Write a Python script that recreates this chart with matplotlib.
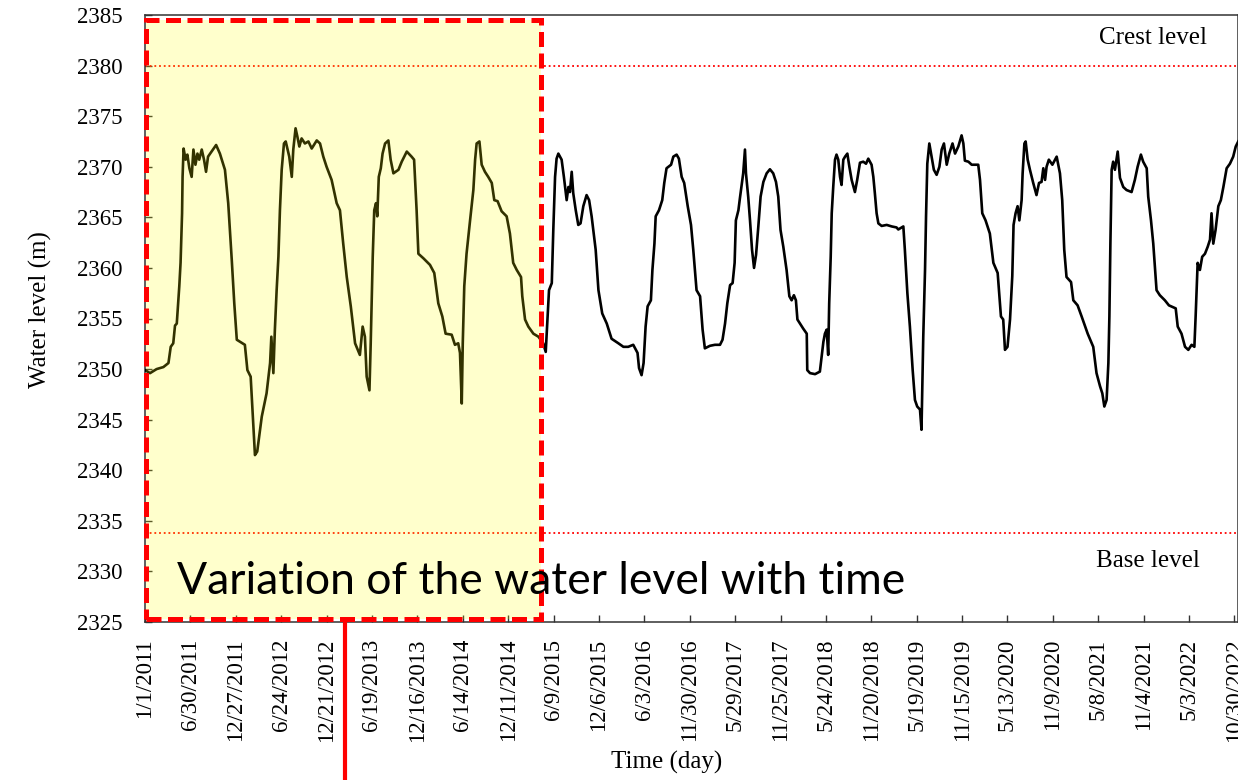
import numpy as np
import pandas as pd
import matplotlib
matplotlib.use("Agg")
import matplotlib.pyplot as plt
from matplotlib.patches import Rectangle
from matplotlib.lines import Line2D

plt.rcParams['font.family'] = ['Liberation Serif', 'DejaVu Serif']

START = "2011-01-01"

# ---- data: days since 1/1/2011 and water level (m) ----
days_a = [0, 20, 46, 73, 93, 102, 112, 119, 126, 136,
          141, 147, 149, 153, 161, 168, 176, 185, 192, 200,
          208, 215, 225, 234, 242, 250, 264, 282, 297, 317,
          330, 344, 354, 364, 377, 396, 406, 419, 430, 436,
          445, 463, 482, 496, 501, 509, 515, 522, 529, 535,
          542, 551, 558, 572, 582, 588, 597, 604, 612, 621,
          634, 648, 661, 681, 694, 707, 720, 740, 760, 773,
          786, 800, 816, 833, 852, 863, 872, 879, 890, 895,
          903, 909, 916, 921, 927, 935, 942, 952, 965, 974,
          985, 1005, 1018, 1038, 1057, 1067, 1077]
level_a = [2349.9, 2349.6, 2350.0, 2350.2, 2350.6, 2352.2, 2352.55, 2354.3, 2354.5, 2358.2,
           2360.5, 2365.4, 2369.0, 2371.8, 2370.7, 2371.2, 2369.85, 2369.0, 2371.7, 2370.2,
           2371.3, 2370.7, 2371.7, 2370.7, 2369.5, 2371.0, 2371.5, 2372.15, 2371.3, 2369.7,
           2366.4, 2360.8, 2356.5, 2352.9, 2352.7, 2352.4, 2349.9, 2349.25, 2344.3, 2341.5,
           2341.85, 2345.3, 2347.6, 2350.6, 2353.2, 2349.6, 2353.9, 2357.8, 2361.1, 2365.7,
           2369.7, 2372.3, 2372.5, 2371.0, 2369.0, 2371.7, 2373.8, 2373.0, 2372.0, 2372.8,
           2372.3, 2372.5, 2371.8, 2372.6, 2372.3, 2371.0, 2370.0, 2368.7, 2366.4, 2365.7,
           2362.4, 2359.1, 2356.2, 2352.55, 2351.4, 2354.2, 2353.2, 2349.25, 2347.9, 2352.55,
           2361.1, 2365.7, 2366.4, 2365.1, 2369.0, 2369.85, 2371.3, 2372.3, 2372.6, 2370.7,
           2369.35, 2369.7, 2370.5, 2371.5, 2371.0, 2370.7, 2365.7]

days_b = [1084, 1104, 1130, 1147, 1163, 1179, 1192, 1216, 1229, 1242,
          1249, 1256, 1260, 1266, 1275, 1282, 1289, 1302, 1309, 1315,
          1326, 1335, 1348, 1361, 1375, 1385, 1398, 1414, 1434, 1447,
          1460, 1474, 1491, 1496, 1507, 1520, 1540, 1560, 1579, 1589,
          1595, 1602, 1613, 1619, 1626, 1632, 1639, 1652, 1661, 1672,
          1679, 1685, 1692, 1698, 1708, 1718, 1727, 1738, 1751, 1761,
          1771, 1787, 1798, 1813, 1831, 1850, 1877, 1897, 1916, 1936,
          1953, 1959, 1969, 1977, 1985, 1993, 2006, 2012, 2020, 2025,
          2038, 2051, 2059, 2068, 2086, 2095, 2108, 2117, 2128, 2138,
          2152, 2165]
level_b = [2361.4, 2360.95, 2360.3, 2359.5, 2356.5, 2355.2, 2353.5, 2353.4, 2352.4, 2352.55,
           2351.6, 2346.6, 2352.55, 2358.2, 2361.4, 2363.1, 2364.7, 2367.7, 2370.7, 2372.3,
           2372.5, 2370.2, 2369.5, 2369.0, 2368.4, 2366.7, 2366.6, 2365.6, 2365.1, 2363.4,
           2360.5, 2359.8, 2359.1, 2357.2, 2354.9, 2354.2, 2353.5, 2353.2, 2352.55, 2351.7,
           2354.5, 2357.8, 2358.5, 2363.75, 2369.0, 2370.8, 2371.3, 2370.7, 2369.0, 2366.7,
           2368.0, 2367.5, 2369.5, 2367.4, 2365.7, 2364.25, 2364.4, 2366.1, 2367.2, 2366.7,
           2365.1, 2361.8, 2357.8, 2355.5, 2354.5, 2353.0, 2352.55, 2352.2, 2352.2, 2352.4,
           2351.6, 2350.1, 2349.4, 2350.6, 2354.2, 2356.2, 2356.8, 2359.8, 2362.4, 2365.1,
           2365.7, 2366.7, 2368.4, 2369.85, 2370.2, 2371.0, 2371.2, 2370.8, 2369.0, 2368.4,
           2366.1, 2364.25]

days_c = [2174, 2187, 2201, 2211, 2220, 2240, 2260, 2280, 2290, 2300,
          2309, 2320, 2330, 2338, 2343, 2353, 2359, 2366, 2372, 2379,
          2383, 2392, 2399, 2407, 2415, 2423, 2432, 2441, 2452, 2465,
          2478, 2491, 2502, 2511, 2520, 2531, 2544, 2555, 2564, 2573,
          2581, 2587, 2600, 2610, 2624, 2626, 2637, 2657, 2676, 2683,
          2690, 2696, 2703, 2709, 2713, 2719, 2723, 2729, 2736, 2742,
          2749, 2756, 2762, 2769, 2776, 2785, 2793, 2802, 2815, 2824,
          2835, 2848, 2859, 2868, 2881, 2888, 2894, 2901, 2908, 2921,
          2941, 2961, 2980, 2987, 3007, 3013, 3023, 3033, 3044, 3053,
          3062, 3073, 3079, 3086, 3093, 3097, 3102, 3110, 3119, 3128,
          3139, 3150, 3159, 3168, 3179, 3189, 3202, 3212, 3225, 3238,
          3245]
level_c = [2361.8, 2357.8, 2357.2, 2353.9, 2352.05, 2352.3, 2352.4, 2352.4, 2352.9, 2354.5,
           2356.5, 2358.3, 2358.5, 2360.5, 2364.7, 2365.7, 2366.9, 2368.2, 2369.35, 2371.7,
           2369.35, 2367.0, 2364.7, 2361.8, 2360.0, 2361.3, 2364.1, 2367.05, 2368.5, 2369.35,
           2369.75, 2369.35, 2368.5, 2367.05, 2363.75, 2362.1, 2359.8, 2357.2, 2356.8, 2357.3,
           2356.8, 2354.9, 2354.4, 2354.0, 2353.5, 2349.9, 2349.6, 2349.5, 2349.75, 2351.2,
           2352.7, 2353.5, 2353.9, 2351.4, 2356.5, 2361.1, 2365.4, 2368.0, 2370.7, 2371.2,
           2370.7, 2369.0, 2368.2, 2370.7, 2371.0, 2371.3, 2370.0, 2368.7, 2367.5, 2368.7,
           2370.4, 2370.5, 2370.3, 2370.8, 2370.2, 2369.0, 2367.4, 2365.4, 2364.4, 2364.15,
           2364.25, 2364.1, 2364.0, 2363.8, 2364.1, 2361.8, 2357.5, 2354.2, 2349.9, 2346.95,
           2346.3, 2346.0, 2344.0, 2353.2, 2359.8, 2365.1, 2370.3, 2372.3, 2371.0, 2369.7,
           2369.2, 2370.0, 2371.7, 2372.3, 2370.2, 2371.3, 2372.3, 2371.3, 2372.0, 2373.1,
           2372.3]

days_d = [3251, 3265, 3278, 3304, 3311, 3320, 3333, 3350, 3364, 3381,
          3394, 3403, 3410, 3420, 3430, 3439, 3444, 3452, 3460, 3467,
          3476, 3480, 3487, 3492, 3500, 3509, 3522, 3535, 3545, 3555,
          3562, 3569, 3575, 3584, 3598, 3615, 3628, 3637, 3645, 3654,
          3672, 3681, 3698, 3714, 3738, 3760, 3773, 3787, 3796, 3804,
          3813, 3820, 3824, 3828, 3833, 3839, 3846, 3857, 3866, 3879,
          3892, 3912, 3925, 3936, 3949, 3958, 3972, 3978, 3989, 3998,
          4011, 4024, 4044, 4060, 4087, 4095, 4110, 4124, 4137, 4150,
          4161, 4166, 4174, 4183, 4192, 4203, 4214, 4223, 4229, 4236,
          4245, 4256, 4266, 4276, 4289, 4302, 4315, 4325, 4335]
level_d = [2370.6, 2370.5, 2370.2, 2370.2, 2368.7, 2365.4, 2364.7, 2363.4, 2360.5, 2359.5,
           2355.2, 2354.9, 2351.9, 2352.2, 2354.9, 2359.2, 2364.25, 2365.4, 2366.1, 2364.7,
           2366.7, 2369.35, 2372.3, 2372.5, 2370.7, 2369.7, 2368.4, 2367.2, 2368.4, 2368.5,
           2369.85, 2368.7, 2370.0, 2370.7, 2370.2, 2371.0, 2369.35, 2366.7, 2361.8, 2359.1,
           2358.6, 2356.8, 2356.3, 2355.2, 2353.5, 2352.2, 2349.6, 2348.3, 2347.6, 2346.3,
           2346.95, 2350.6, 2355.2, 2362.4, 2369.7, 2370.5, 2369.7, 2371.5, 2368.9, 2368.0,
           2367.7, 2367.5, 2368.7, 2370.0, 2371.2, 2370.5, 2369.85, 2367.05, 2364.7, 2362.4,
           2357.8, 2357.3, 2356.8, 2356.3, 2356.0, 2354.2, 2353.5, 2352.2, 2351.9, 2352.4,
           2352.2, 2355.2, 2360.5, 2359.8, 2361.1, 2361.4, 2362.1, 2362.8, 2365.4, 2362.4,
           2363.75, 2366.1, 2366.7, 2368.0, 2369.85, 2370.3, 2371.0, 2372.0, 2372.5]

crest_level = 2380.0
base_level = 2333.8

tick_labels = ["1/1/2011", "6/30/2011", "12/27/2011", "6/24/2012", "12/21/2012",
               "6/19/2013", "12/16/2013", "6/14/2014", "12/11/2014", "6/9/2015",
               "12/6/2015", "6/3/2016", "11/30/2016", "5/29/2017", "11/25/2017",
               "5/24/2018", "11/20/2018", "5/19/2019", "11/15/2019", "5/13/2020",
               "11/9/2020", "5/8/2021", "11/4/2021", "5/3/2022", "10/30/2022"]
y_ticks = list(range(2325, 2386, 5))

# ---- build ----
days = np.array(days_a + days_b + days_c + days_d)
levels = np.array(level_a + level_b + level_c + level_d)
t0 = pd.Timestamp(START)
dates = t0 + pd.to_timedelta(days, unit="D")
tick_pos = pd.to_datetime(tick_labels, format="%m/%d/%Y")

W, H = 1238, 780
fig = plt.figure(figsize=(W / 100, H / 100), dpi=100)
ax = fig.add_axes([145 / W, 1 - 622 / H, (W - 145) / W, 607 / H])

ax.plot(dates, levels, color="black", lw=1.9, zorder=3)
ax.axhline(crest_level, color="red", lw=1.3, ls=(0, (1, 1.6)), zorder=2)
ax.axhline(base_level, color="red", lw=1.3, ls=(0, (1, 1.6)), zorder=2)

ax.set_ylim(2325, 2385)
ax.set_xlim(t0, t0 + pd.Timedelta(days=4334))
ax.set_yticks(y_ticks)
ax.set_xticks(tick_pos)
ax.set_xticklabels(tick_labels, rotation=90)
ax.tick_params(axis="both", direction="in", labelsize=16.5, length=5, width=1, color="#333333")
ax.tick_params(axis="y", pad=16)
ax.tick_params(axis="x", pad=12)
for s in ax.spines.values():
    s.set_color("#333333")
    s.set_linewidth(1.1)

ax.set_ylabel("Water level (m)", fontsize=18, va="center")
ax.yaxis.set_label_coords(-0.096, 0.514)
ax.set_xlabel("Time (day)", fontsize=18, va="center")
ax.xaxis.set_label_coords(0.477, -0.232)

trans = ax.get_yaxis_transform()
ax.text(0.9716, 2382.7, "Crest level", transform=trans, ha="right", va="center", fontsize=18)
ax.text(0.9652, 2331.05, "Base level", transform=trans, ha="right", va="center", fontsize=18)

# ---- highlight overlay ----
x0, x1 = (146 - 145) / (W - 145), (541 - 145) / (W - 145)
y0, y1 = (622 - 619) / 607, (622 - 20) / 607
ax.add_patch(Rectangle((x0, y0), x1 - x0, y1 - y0, transform=ax.transAxes,
                       facecolor=(1, 1, 0, 0.2), edgecolor="none", zorder=5, clip_on=False))
ax.add_patch(Rectangle((x0, y0), x1 - x0, y1 - y0, transform=ax.transAxes,
                       facecolor="none", edgecolor="red", lw=3.6, ls=(0, (3, 1.3)),
                       zorder=6, clip_on=False))
fig.add_artist(Line2D([345 / W, 345 / W], [1 - 622 / H, 0.003], color="red", lw=3.0,
                      transform=fig.transFigure, zorder=6))
ax.text((177 - 145) / (W - 145), 2327.8, "Variation of the water level with time",
        transform=trans, fontfamily="Lato", fontsize=32, ha="left", va="baseline",
        zorder=7, color="black")

fig.savefig("out.png", dpi=100)
